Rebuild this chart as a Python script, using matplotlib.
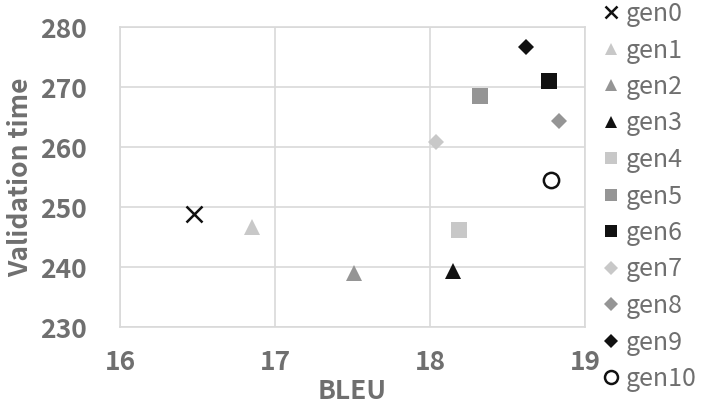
import matplotlib
matplotlib.use("Agg")
import matplotlib.pyplot as plt

plt.rcParams['font.family'] = ['Noto Sans CJK JP', 'DejaVu Sans']

# Data: one point per generation
labels = ['gen0', 'gen1', 'gen2', 'gen3', 'gen4', 'gen5', 'gen6', 'gen7', 'gen8', 'gen9', 'gen10']
bleu = [16.48, 16.85, 17.51, 18.15, 18.19, 18.32, 18.77, 18.04, 18.83, 18.62, 18.78]
val_time = [248.9, 246.7, 239.0, 239.4, 246.2, 268.5, 271.0, 260.9, 264.4, 276.7, 254.5]

LIGHT = '#c8c8c8'
MID = '#959595'
DARK = '#111111'
markers = ['x', '^', '^', '^', 's', 's', 's', 'D', 'D', 'D', 'o']
colors = [DARK, LIGHT, MID, DARK, LIGHT, MID, DARK, LIGHT, MID, DARK, 'white']
sizes = [11, 11, 11, 11, 11, 11, 11, 8, 8, 8, 11]

TEXT = '#6f6f6f'
GRID = '#d9d9d9'

fig = plt.figure(figsize=(7.01, 4.08), dpi=100)
ax = fig.add_axes([120 / 701, 81 / 408, 465 / 701, 300 / 408])

for x, y, m, c, s, lab in zip(bleu, val_time, markers, colors, sizes, labels):
    if m == 'x':
        ax.plot([x], [y], linestyle='none', marker=m, markersize=s, color=c,
                markeredgewidth=1.8, label=lab)
    elif m == 'o':
        ax.plot([x], [y], linestyle='none', marker=m, markersize=s,
                markerfacecolor=c, markeredgecolor=DARK, markeredgewidth=1.8, label=lab)
    else:
        ax.plot([x], [y], linestyle='none', marker=m, markersize=s, color=c,
                markeredgewidth=0, label=lab)

ax.set_xlim(16, 19)
ax.set_ylim(230, 280)
ax.set_xticks([16, 17, 18, 19])
ax.set_yticks([230, 240, 250, 260, 270, 280])
ax.grid(True, color=GRID, linewidth=1.2)
ax.set_axisbelow(True)
for sp in ax.spines.values():
    sp.set_color(GRID)
    sp.set_linewidth(1.2)
ax.tick_params(length=0, labelsize=19, labelcolor=TEXT)
for t in ax.get_xticklabels() + ax.get_yticklabels():
    t.set_fontweight('bold')
ax.tick_params(axis='y', pad=24)
ax.tick_params(axis='x', pad=16)

ax.set_xlabel('BLEU', fontsize=19, fontweight='bold', color=TEXT, labelpad=1)
ax.set_ylabel('Validation time', fontsize=19, fontweight='bold', color=TEXT, labelpad=4)

leg = fig.legend(loc='upper left', bbox_to_anchor=(603 / 701, 1.0 - 1 / 408),
                 frameon=False, fontsize=18, labelcolor=TEXT,
                 handlelength=0.6, handletextpad=0.3, labelspacing=0.42,
                 markerscale=0.85, borderaxespad=0, borderpad=0)

fig.savefig('out.png', dpi=100)
